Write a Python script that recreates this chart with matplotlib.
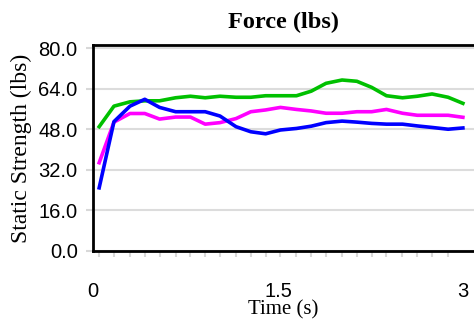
import matplotlib.pyplot as plt

# sample times (s)
t = [0.05, 0.17, 0.30, 0.42, 0.54, 0.67, 0.79, 0.91, 1.03, 1.16, 1.28, 1.40, 1.52,
     1.65, 1.77, 1.89, 2.02, 2.14, 2.26, 2.38, 2.51, 2.63, 2.75, 2.88, 3.00]

green = [49.0, 57.1, 58.8, 59.2, 59.2, 60.4, 61.0, 60.4, 61.0, 60.6, 60.6, 61.2, 61.2,
         61.2, 63.0, 66.1, 67.4, 66.9, 64.5, 61.2, 60.4, 61.0, 61.9, 60.6, 58.2]
magenta = [34.8, 50.8, 54.2, 54.2, 52.0, 52.8, 52.8, 50.0, 50.6, 52.2, 54.9, 55.6, 56.6,
           55.8, 55.2, 54.3, 54.3, 54.9, 54.9, 55.8, 54.3, 53.5, 53.5, 53.5, 52.7]
blue = [24.9, 51.0, 57.1, 59.8, 56.6, 54.9, 54.9, 54.9, 53.2, 49.0, 47.0, 46.2, 47.7,
        48.3, 49.2, 50.6, 51.2, 50.8, 50.3, 50.0, 50.0, 49.3, 48.7, 48.0, 48.5]

yticks = [0, 16, 32, 48, 64, 80]
xticks = [0, 1.5, 3]
xticklabels = ['0', '1.5', '3']

fig = plt.figure(figsize=(4.74, 3.26), dpi=100)
ax = fig.add_axes([93 / 474, 1 - 251 / 326, 1 - 93 / 474, 206 / 326])

ax.plot(t, green, color='#00c000', lw=2.6, zorder=3)
ax.plot(t, magenta, color='#ff00ff', lw=2.6, zorder=3)
ax.plot(t, blue, color='#0000ff', lw=2.6, zorder=4)

ax.set_xlim(0, 381 / 123.3)
ax.set_ylim(0, 81.2)

ax.set_yticks(yticks)
ax.set_yticklabels(['%.1f' % v for v in yticks], family='Liberation Sans', fontsize=14.5)
ax.set_xticks(t, minor=True)
ax.set_xticks(xticks)
ax.set_xticklabels(xticklabels, family='Liberation Sans', fontsize=14.5)
ax.tick_params(axis='y', which='major', length=5, color='#d8d8d8', width=1.5, pad=6)
ax.tick_params(axis='x', which='major', length=0, pad=22)
ax.tick_params(axis='x', which='minor', length=4, color='#d8d8d8', width=1.5)
ax.yaxis.grid(True, color='#dcdcdc', lw=1.5)
ax.set_axisbelow(True)

ax.spines['right'].set_visible(False)
for side in ['left', 'top', 'bottom']:
    ax.spines[side].set_linewidth(2)
    ax.spines[side].set_color('black')

ax.set_title('Force (lbs)', family='Liberation Serif', fontweight='bold', fontsize=17.5, pad=12)
ax.set_ylabel('Static Strength (lbs)', family='Liberation Serif', fontsize=17, labelpad=5)
ax.set_xlabel('Time (s)', family='Liberation Serif', fontsize=15, labelpad=0)

fig.savefig('out.png', dpi=100)
